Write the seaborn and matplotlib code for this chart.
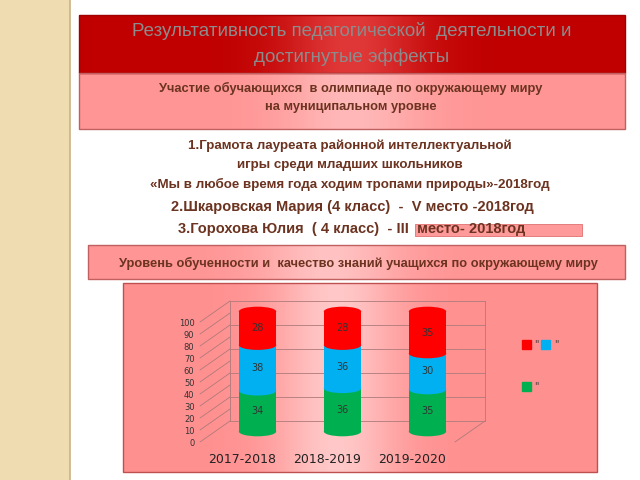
import numpy as np
import pandas as pd
import matplotlib.pyplot as plt
import matplotlib.transforms as mtransforms
from matplotlib.patches import Rectangle, Ellipse
import seaborn as sns

sns.set_theme(style="white")
plt.rcParams['font.family'] = ['DejaVu Sans']

# data
years = ["2017-2018", "2018-2019", "2019-2020"]
green_vals = [34, 36, 35]
blue_vals = [38, 36, 30]
red_vals = [28, 28, 35]
y_ticks = list(range(0, 101, 10))

title_lines = "Результативность педагогической  деятельности и\nдостигнутые эффекты"
sub_lines = "Участие обучающихся  в олимпиаде по окружающему миру\nна муниципальном уровне"
body_small = ["1.Грамота лауреата районной интеллектуальной",
              "игры среди младших школьников",
              "«Мы в любое время года ходим тропами природы»-2018год"]
body_big = ["2.Шкаровская Мария (4 класс)  -  V место -2018год",
            "3.Горохова Юлия  ( 4 класс)  - III  место- 2018год"]
box_text = "Уровень обученности и  качество знаний учащихся по окружающему миру"

RED = "#ff0000"
BLUE = "#00b0f0"
GREEN = "#00b050"
BROWN = "#6b3320"
NARROW = ['Liberation Sans', 'DejaVu Sans']

fig = plt.figure(figsize=(6.4, 4.8), dpi=100)
fig.patch.set_facecolor("white")

# slide layer in pixel coordinates
bg = fig.add_axes([0, 0, 1, 1])
bg.set_xlim(0, 640)
bg.set_ylim(480, 0)
bg.axis("off")

# beige side strip
bg.add_patch(Rectangle((0, 0), 69, 480, color="#efdcb0", zorder=1))
bg.plot([69.5, 69.5], [0, 480], color="#c9b48a", lw=1.2, zorder=2)


def grad_box(x0, y0, w, h, edge, mid, border, cx=0.5, z=2):
    # horizontal gradient: edge colour at sides, lighter in the middle
    t = np.linspace(0, 1, 300)
    k = np.exp(-((t - cx) / 0.13) ** 2)
    c0 = np.array(plt.matplotlib.colors.to_rgb(edge))
    c1 = np.array(plt.matplotlib.colors.to_rgb(mid))
    img = c0[None, :] * (1 - k[:, None]) + c1[None, :] * k[:, None]
    bg.imshow(img[None, :, :], extent=(x0, x0 + w, y0 + h, y0), aspect="auto", zorder=z)
    bg.add_patch(Rectangle((x0, y0), w, h, fill=False, ec=border, lw=1, zorder=z + 0.1))


grad_box(79, 15, 546, 58, "#c00000", "#e03838", "#a00000")
grad_box(79, 73, 546, 56, "#ff9595", "#ffb8b8", "#c06060")
bg.text(352, 44, title_lines, ha="center", va="center", fontsize=13.5, color="#8c8c8c",
        family=NARROW, linespacing=1.65, zorder=5)
bg.text(351, 97.5, sub_lines, ha="center", va="center", fontsize=9.3, color=BROWN,
        family=NARROW, fontweight="bold", linespacing=1.75, zorder=5)

bg.add_patch(Rectangle((415, 224), 167, 12, color="#ff9a9a", ec="#e07070", lw=0.6, zorder=3))
for i, line in enumerate(body_small):
    bg.text(350, 146 + i * 19, line, ha="center", va="center", fontsize=9.6, color=BROWN,
            family=NARROW, fontweight="bold", zorder=5)
for i, line in enumerate(body_big):
    bg.text(352, 207 + i * 22, line, ha="center", va="center", fontsize=10.5, color=BROWN,
            family=NARROW, fontweight="bold", zorder=5)

grad_box(88, 245, 537, 34, "#ff9595", "#ffc2c2", "#c06060", cx=0.45)
bg.text(358, 263, box_text, ha="center", va="center", fontsize=9.3, color=BROWN,
        family=NARROW, fontweight="bold", zorder=5)

grad_box(123, 283, 474, 189, "#ff9090", "#ffc8c8", "#c05050", cx=0.45)

# legend
bg.add_patch(Rectangle((522, 340), 9, 9, color=RED, zorder=5))
bg.text(534, 344, '"', fontsize=7, va="center", color="#333333", zorder=5)
bg.add_patch(Rectangle((541, 340), 9, 9, color=BLUE, zorder=5))
bg.text(554, 344, '"', fontsize=7, va="center", color="#333333", zorder=5)
bg.add_patch(Rectangle((522, 382), 9, 9, color=GREEN, zorder=5))
bg.text(534, 386, '"', fontsize=7, va="center", color="#333333", zorder=5)

# chart
df = pd.DataFrame({"year": years, "green": green_vals, "blue": blue_vals, "red": red_vals})
df["gb"] = df["green"] + df["blue"]
df["total"] = df["gb"] + df["red"]

# axes = front plane of the 3D box
ax = fig.add_axes([200 / 640, 38 / 480, 255 / 640, 120 / 480])
ax.patch.set_alpha(0)
ax.set_ylim(0, 100)
ax.set_xlim(-0.5, 2.5)

mid = mtransforms.offset_copy(ax.transData, fig=fig, x=15, y=10.5, units="dots")
back = mtransforms.offset_copy(ax.transData, fig=fig, x=30, y=21, units="dots")

# walls of the 3D frame
wall = "#b07a7a"
for v in range(0, 101, 20):
    ax.plot([-0.5, 2.5], [v, v], color=wall, lw=0.6, transform=back, zorder=1, clip_on=False)
for v in range(0, 101, 10):
    ax.annotate("", xy=(-0.5, v), xycoords=back, xytext=(-0.5, v), textcoords=ax.transData,
                arrowprops=dict(arrowstyle="-", color=wall, lw=0.6, shrinkA=0, shrinkB=0))
ax.plot([-0.5, -0.5], [0, 100], color=wall, lw=0.6, transform=back, clip_on=False)
ax.plot([2.5, 2.5], [0, 100], color=wall, lw=0.6, transform=back, clip_on=False)
ax.annotate("", xy=(2.5, 0), xycoords=back, xytext=(2.5, 0), textcoords=ax.transData,
            arrowprops=dict(arrowstyle="-", color=wall, lw=0.6, shrinkA=0, shrinkB=0))

bw = 0.44
sns.barplot(data=df, x="year", y="total", color=RED, width=bw, saturation=1, ax=ax, zorder=2, linewidth=0)
sns.barplot(data=df, x="year", y="gb", color=BLUE, width=bw, saturation=1, ax=ax, zorder=2.1, linewidth=0)
sns.barplot(data=df, x="year", y="green", color=GREEN, width=bw, saturation=1, ax=ax, zorder=2.2, linewidth=0)
for p in ax.patches:
    p.set_transform(mid)
    p.set_clip_on(False)

# cylinder caps
eh = 8
for i, row in df.iterrows():
    for base, col, z in [(0, GREEN, 2.3), (row["green"], BLUE, 2.4), (row["gb"], RED, 2.5), (row["total"], RED, 2.6)]:
        e = Ellipse((i, base), bw, eh, fc=col, lw=0, transform=mid, zorder=z, clip_on=False)
        ax.add_patch(e)

for i, row in df.iterrows():
    for yv, val in [(row["green"] / 2, row["green"]), (row["green"] + row["blue"] / 2, row["blue"]),
                    (row["gb"] + row["red"] / 2, row["red"])]:
        ax.text(i, yv, str(val), ha="center", va="center", fontsize=7, color="#333333",
                transform=mid, zorder=5)

ax.set_yticks(y_ticks)
ax.set_yticklabels([str(v) for v in y_ticks], fontsize=6)
ax.tick_params(axis="y", pad=4, length=0, colors="#333333")
ax.tick_params(axis="x", pad=8, length=0, labelsize=9, colors="#222222")
ax.set_xlabel("")
ax.set_ylabel("")
for s in ax.spines.values():
    s.set_visible(False)

fig.savefig("out.png", dpi=100)
